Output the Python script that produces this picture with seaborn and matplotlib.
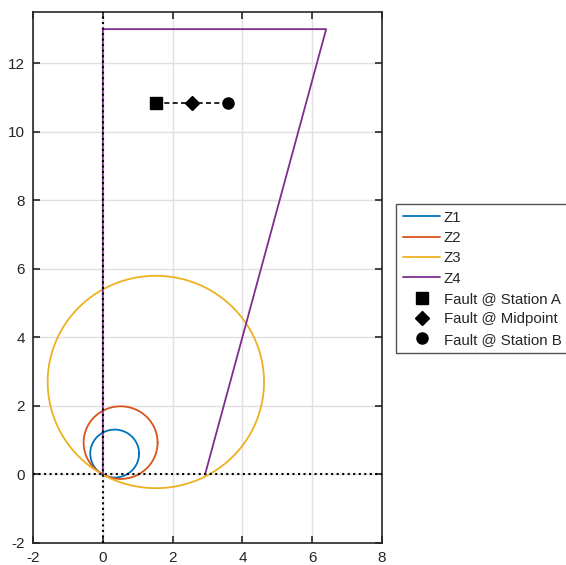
import numpy as np
import pandas as pd
import matplotlib
matplotlib.use('Agg')
import matplotlib.pyplot as plt
import seaborn as sns

# mho zone circles (center x, center y, radius)
zone_names = ['Z1', 'Z2', 'Z3']
zone_cx = [0.34, 0.51, 1.52]
zone_cy = [0.61, 0.93, 2.70]
zone_r = [0.70, 1.06, 3.10]
zone_colors = ['#0072BD', '#D95319', '#EDB120']

# Z4 boundary (open at the bottom)
z4_x = [0, 0, 6.4, 2.93]
z4_y = [0, 13, 13, 0]
z4_color = '#7E2F8E'

# fault points
fault_labels = ['Fault @ Station A', 'Fault @ Midpoint', 'Fault @ Station B']
fault_x = [1.52, 2.55, 3.58]
fault_y = [10.83, 10.83, 10.83]
fault_markers = ['s', 'D', 'o']

sns.set_style('ticks')
plt.rcParams['font.family'] = ['Liberation Sans', 'DejaVu Sans']
plt.rcParams['axes.unicode_minus'] = False

fig = plt.figure(figsize=(5.66, 5.65), dpi=100)
ax = fig.add_axes([33 / 566, 22 / 565, 349 / 566, 531 / 565])

theta = np.linspace(0, 2 * np.pi, 400)
for name, cx, cy, r, c in zip(zone_names, zone_cx, zone_cy, zone_r, zone_colors):
    df = pd.DataFrame({'x': cx + r * np.cos(theta), 'y': cy + r * np.sin(theta)})
    sns.lineplot(data=df, x='x', y='y', sort=False, estimator=None, color=c,
                 lw=1.3, label=name, ax=ax)

sns.lineplot(x=z4_x, y=z4_y, sort=False, estimator=None, color=z4_color,
             lw=1.3, label='Z4', ax=ax)

# dashed connector between fault points
ax.plot(fault_x, fault_y, color='black', ls=(0, (3, 2)), lw=1.2, zorder=3)
for fx, fy, m, lab in zip(fault_x, fault_y, fault_markers, fault_labels):
    ax.plot([fx], [fy], ls='none', marker=m, color='black',
            markersize=8 if m != 'D' else 7, label=lab, zorder=4)

# axes through origin
ax.axvline(0, color='black', ls=':', lw=1.5, zorder=5)
ax.axhline(0, color='black', ls=':', lw=1.5, zorder=5)

ax.set_xlim(-2, 8)
ax.set_ylim(-2, 13.5)
ax.set_xticks(np.arange(-2, 9, 2))
ax.set_yticks(np.arange(-2, 13, 2))
ax.set_xlabel('')
ax.set_ylabel('')
ax.grid(True, color='#e0e0e0', lw=1)
ax.set_axisbelow(True)
ax.tick_params(direction='in', length=5, width=1.2, top=True, right=True,
               labelsize=11, colors='#262626', pad=6)
for s in ax.spines.values():
    s.set_visible(True)
    s.set_color('#262626')
    s.set_linewidth(1.2)

leg = ax.legend(loc='upper left', bbox_to_anchor=(396 / 566, 1 - 204 / 565),
                bbox_transform=fig.transFigure, fontsize=10.8, frameon=True,
                fancybox=False, edgecolor='#262626', borderpad=0.45,
                labelspacing=0.42, handlelength=2.5, handletextpad=0.25,
                borderaxespad=0)
leg.get_frame().set_linewidth(1.0)

fig.savefig('out.png', dpi=100)
